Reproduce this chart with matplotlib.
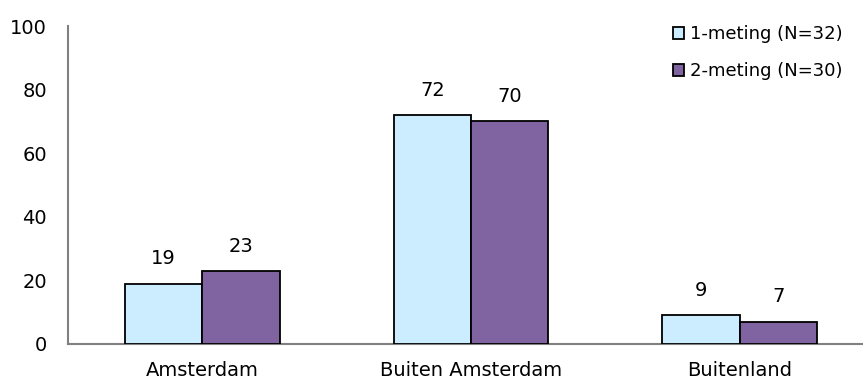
import matplotlib
matplotlib.use("Agg")
import matplotlib.pyplot as plt
import numpy as np

categories = ["Amsterdam", "Buiten Amsterdam", "Buitenland"]
series_names = ["1-meting (N=32)", "2-meting (N=30)"]
meting1 = [19, 72, 9]
meting2 = [23, 70, 7]
yticks = [0, 20, 40, 60, 80, 100]

colors = ["#CCECFF", "#8064A2"]

plt.rcParams["font.family"] = ["DejaVu Sans"]

fig = plt.figure(figsize=(8.63, 3.78), dpi=100)
ax = fig.add_axes([0.0788, 0.09, 0.934, 0.841])

x = np.arange(len(categories))
w = 0.288
for i, (vals, name, c) in enumerate(zip([meting1, meting2], series_names, colors)):
    offset = (i - 0.5) * w
    ax.bar(x + offset, vals, w, color=c, edgecolor="black", linewidth=1.3, label=name, zorder=3)
    for xi, v in zip(x + offset, vals):
        ax.annotate(str(v), (xi, v), xytext=(0, 11), textcoords="offset points",
                    ha="center", va="bottom", fontsize=14)

ax.set_xlim(-0.5, 2.5)
ax.set_ylim(0, 100)
ax.set_yticks(yticks)
ax.set_xticks(x)
ax.set_xticklabels(categories)
ax.tick_params(axis="both", length=0, labelsize=14)
ax.tick_params(axis="y", pad=15)
ax.tick_params(axis="x", pad=12)

for s in ["top", "right"]:
    ax.spines[s].set_visible(False)
for s in ["left", "bottom"]:
    ax.spines[s].set_color("#808080")
    ax.spines[s].set_linewidth(1.5)

leg = ax.legend(loc="upper left", bbox_to_anchor=(0.741, 1.026), frameon=False,
                fontsize=13, handlelength=0.65, handleheight=0.65, handletextpad=0.3,
                labelspacing=1.07, borderaxespad=0)

fig.savefig("out.png", dpi=100)
